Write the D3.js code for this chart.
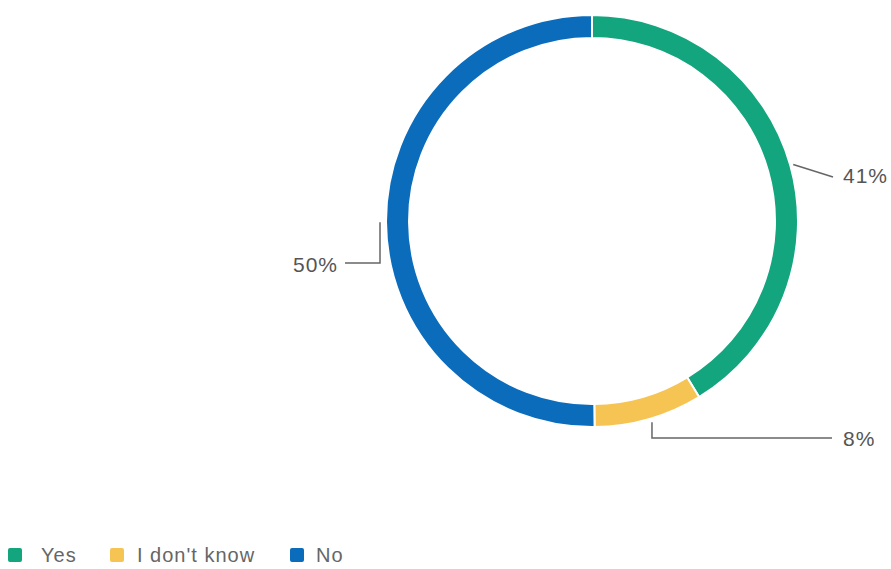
<!DOCTYPE html>
<html><head><meta charset="utf-8">
<script src="https://cdn.jsdelivr.net/npm/d3@7"></script>
<style>body{margin:0;background:#fff}svg{display:block;font-family:"Liberation Sans",Arial,sans-serif}</style>
</head><body><svg id="c" width="891" height="569"></svg>
<script>
const categories = ["Yes", "I don't know", "No"];
const values = [41.3, 8.5, 50.2];
const labels = ["41%", "8%", "50%"];
const colors = ["#13a57e", "#f6c452", "#0b6cbc"];

const svg = d3.select("#c");
const cx = 592, cy = 221, R = 206, r = 183;
const pie = d3.pie().sort(null).value(d => d)(values);
const arc = d3.arc().innerRadius(r).outerRadius(R);
const g = svg.append("g").attr("transform", `translate(${cx},${cy})`);
g.selectAll("path").data(pie).join("path")
  .attr("d", arc).attr("fill", (d,i) => colors[i])
  .attr("stroke", "#fff").attr("stroke-width", 2);

function pt(a, rad){ return [rad*Math.sin(a), -rad*Math.cos(a)]; }
const lineColor = "#666", textColor = "#555";
const leaders = [
  d => { const a = (d.startAngle+d.endAngle)/2; const p = pt(a, R+3);
         return {pts:[p,[241,-44]], tx:251, ty:-45, anchor:"start"}; },
  d => { const a = (d.startAngle+d.endAngle)/2 - 0.01; const p = pt(a, R+4);
         return {pts:[p,[p[0],217],[240,217]], tx:251, ty:218, anchor:"start"}; },
  d => { const a = (d.startAngle+d.endAngle)/2; const p = pt(a, R+6);
         return {pts:[p,[p[0],42],[-247,42]], tx:-254, ty:44, anchor:"end"}; }
];
pie.forEach((d,i) => {
  const L = leaders[i](d);
  g.append("polyline").attr("points", L.pts.map(p=>p.join(",")).join(" "))
    .attr("fill","none").attr("stroke",lineColor).attr("stroke-width",1.5);
  g.append("text").attr("x",L.tx).attr("y",L.ty).attr("dy","0.35em")
    .attr("text-anchor",L.anchor).attr("fill",textColor)
    .attr("font-size",21).attr("letter-spacing",1).text(labels[i]);
});

const legX = [8, 110, 290];
const legT = [41, 137, 316];
const leg = svg.append("g");
categories.forEach((c,i) => {
  leg.append("rect").attr("x",legX[i]).attr("y",548).attr("width",14).attr("height",14)
    .attr("rx",2).attr("fill",colors[i]);
  leg.append("text").attr("x",legT[i]).attr("y",555).attr("dy","0.35em")
    .attr("font-size",20).attr("letter-spacing",1).attr("fill","#666").text(c);
});
</script></body></html>
